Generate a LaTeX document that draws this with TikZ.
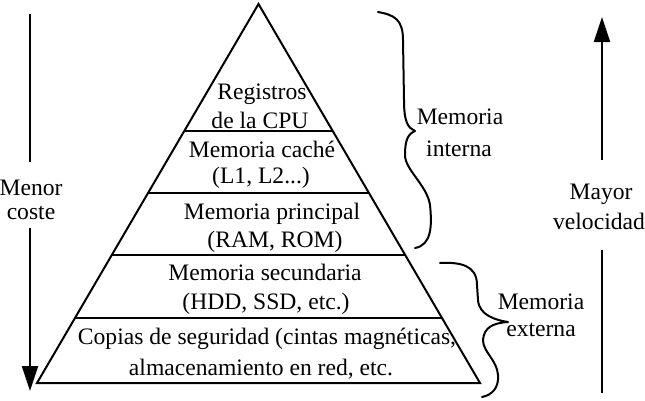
\documentclass[tikz,border=0pt]{standalone}
\usepackage{fontspec}
\setmainfont{Liberation Serif}
\usetikzlibrary{calc,arrows.meta}
\begin{document}
\begin{tikzpicture}[x=1pt,y=-1pt,
  line width=2pt,
  lbl/.style={font=\fontsize{23.6}{30}\selectfont, inner sep=0pt, anchor=base},
  brace/.style={line width=2pt, line cap=round, line join=round},
  arr/.style={-{Triangle[length=25pt,width=16pt]}}]
\useasboundingbox (0,0) rectangle (645,400);

% pyramid
\coordinate (apex) at (258.5,4);
\coordinate (bl) at (37,383);
\coordinate (br) at (480,383);
\draw[line join=miter] (apex) -- (br) -- (bl) -- cycle;
\foreach \y/\n in {131/a,193/b,255/c,318/d}{
  \coordinate (L\n) at ($(apex)!{(\y-4)/379}!(bl)$);
  \coordinate (R\n) at ($(apex)!{(\y-4)/379}!(br)$);
  \draw (L\n) -- (R\n);
}

% pyramid texts
\node[lbl] (reg1) at (262,99) {Registros};
\node[lbl] (reg2) at (260,128) {de la CPU};
\node[lbl] (cac1) at (262,157) {Memoria caché};
\node[lbl] (cac2) at (261,183) {(L1, L2...)};
\node[lbl] (pri1) at (272,219) {Memoria principal};
\node[lbl] (pri2) at (275,247) {(RAM, ROM)};
\node[lbl] (sec1) at (265,280) {Memoria secundaria};
\node[lbl] (sec2) at (266,309) {(HDD, SSD, etc.)};
\node[lbl] (cop1) at (267,344) {Copias de seguridad (cintas magnéticas,};
\node[lbl] (cop2) at (261,375) {almacenamiento en red, etc.};

% left arrow
\coordinate (ltop) at (30,14);
\coordinate (lmid1) at (30,162);
\coordinate (lmid2) at (30,228);
\coordinate (lbot) at (30,391);
\node[lbl] (men1) at (31,195) {Menor};
\node[lbl] (men2) at (31,219) {coste};
\draw (ltop) -- (lmid1);
\draw[arr] (lmid2) -- (lbot);

% right arrow
\coordinate (rtop) at (602,17);
\coordinate (rmid1) at (602,160);
\coordinate (rmid2) at (602,250);
\coordinate (rbot) at (602,393);
\node[lbl] (may1) at (601,199) {Mayor};
\node[lbl] (may2) at (599,229) {velocidad};
\draw[arr] (rmid1) -- (rtop);
\draw (rmid2) -- (rbot);

% brace memoria interna
\draw[brace] (378,12) .. controls (395,15) and (403,20) .. (403,40)
  -- (404,100) .. controls (404,122) and (408,128) .. (415,131)
  .. controls (408,134) and (405,140) .. (405,155)
  .. controls (405,170) and (427,185) .. (430,205)
  .. controls (432,225) and (432,245) .. (415,248);
\node[lbl] (int1) at (460,124) {Memoria};
\node[lbl] (int2) at (459,156) {interna};

% brace memoria externa
\draw[brace] (440,263) .. controls (460,262) and (477,265) .. (477,285)
  -- (478,300) .. controls (479,315) and (495,320) .. (508,322)
  .. controls (492,323) and (484,328) .. (483,340)
  .. controls (483,352) and (497,360) .. (498,375)
  .. controls (499,388) and (492,395) .. (482,397);
\node[lbl] (ext1) at (541,309) {Memoria};
\node[lbl] (ext2) at (541,336) {externa};
\end{tikzpicture}
\end{document}
